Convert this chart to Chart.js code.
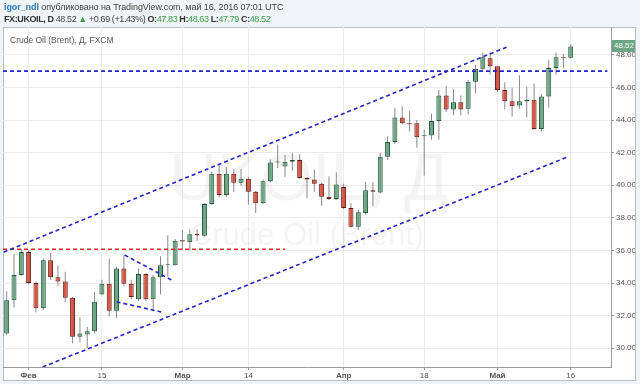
<!DOCTYPE html>
<html>
<head>
<meta charset="utf-8">
<script src="https://cdn.jsdelivr.net/npm/chart.js@4.4.1/dist/chart.umd.min.js"></script>
<style>
  html, body { margin: 0; padding: 0; background: #f0f3f7; }
  #wrap { position: relative; width: 640px; height: 384px; overflow: hidden; }
  #chart { position: absolute; left: 0; top: 0; }
  .hdr { position: absolute; left: 4px; font-family: "Liberation Sans", Arial, sans-serif; font-size: 9px; color: #444; white-space: nowrap; }
  .user { color: #2a7ab8; font-weight: bold; }
  .b { font-weight: bold; color: #333; }
  .g { color: #3aa04a; }
</style>
</head>
<body>
<div id="wrap">
  <canvas id="chart" width="640" height="384"></canvas>
  <div class="hdr" style="top:2px;letter-spacing:-0.08px"><span class="user">igor_ndl</span> опубликовано на TradingView.com, май 16, 2016 07:01 UTC</div>
  <div class="hdr" style="top:14px;letter-spacing:-0.4px"><span class="b">FX:UKOIL, D</span> 48.52 <span class="g">▲</span> +0.69 (+1.43%) <span class="b">O:</span><span class="g">47.83</span> <span class="b">H:</span><span class="g">48.63</span> <span class="b">L:</span><span class="g">47.79</span> <span class="b">C:</span><span class="g">48.52</span></div>
  <div class="hdr" style="top:35px;left:10px;font-size:8.5px;color:#555">Crude Oil (Brent), Д, FXCM</div>
</div>
<script>
// daily candles, FX:UKOIL
const dates = [
  "2016-01-27", "2016-01-28", "2016-01-29", "2016-02-01", "2016-02-02", "2016-02-03", "2016-02-04", "2016-02-05",
  "2016-02-08", "2016-02-09", "2016-02-10", "2016-02-11", "2016-02-12", "2016-02-15", "2016-02-16", "2016-02-17",
  "2016-02-18", "2016-02-19", "2016-02-22", "2016-02-23", "2016-02-24", "2016-02-25", "2016-02-26", "2016-02-29",
  "2016-03-01", "2016-03-02", "2016-03-03", "2016-03-04", "2016-03-07", "2016-03-08", "2016-03-09", "2016-03-10",
  "2016-03-11", "2016-03-14", "2016-03-15", "2016-03-16", "2016-03-17", "2016-03-18", "2016-03-21", "2016-03-22",
  "2016-03-23", "2016-03-24", "2016-03-28", "2016-03-29", "2016-03-30", "2016-03-31", "2016-04-01", "2016-04-04",
  "2016-04-05", "2016-04-06", "2016-04-07", "2016-04-08", "2016-04-11", "2016-04-12", "2016-04-13", "2016-04-14",
  "2016-04-15", "2016-04-18", "2016-04-19", "2016-04-20", "2016-04-21", "2016-04-22", "2016-04-25", "2016-04-26",
  "2016-04-27", "2016-04-28", "2016-04-29", "2016-05-02", "2016-05-03", "2016-05-04", "2016-05-05", "2016-05-06",
  "2016-05-09", "2016-05-10", "2016-05-11", "2016-05-12", "2016-05-13", "2016-05-16"
];
const opens = [
  30.9, 32.95, 34.5, 35.9, 34.0, 32.45, 35.4, 34.35, 34.1, 33.1, 30.7, 30.85, 31.05, 33.3, 33.95, 32.3,
  34.9, 33.95, 33.0, 34.55, 33.0, 34.35, 35.1, 35.1, 36.62, 36.5, 37.02, 36.9, 38.85, 40.7, 39.4, 40.7,
  40.15, 40.4, 39.6, 38.9, 40.25, 41.45, 41.15, 41.45, 41.55, 40.45, 40.35, 40.1, 39.3, 39.15, 39.9, 38.6,
  37.45, 38.3, 39.7, 39.55, 41.75, 42.65, 44.15, 43.8, 43.8, 43.0, 43.05, 43.95, 45.5, 44.65, 45.1, 44.7,
  46.35, 47.15, 47.8, 47.3, 45.85, 45.15, 44.9, 45.15, 45.25, 43.45, 45.45, 47.2, 47.85, 47.83
];
const highs = [
  33.5, 35.8, 36.1, 36.0, 34.1, 35.5, 35.85, 35.1, 34.7, 33.15, 31.9, 31.3, 33.45, 34.2, 35.5, 35.0,
  35.7, 34.2, 34.9, 34.6, 34.5, 35.65, 36.95, 36.7, 37.25, 37.3, 37.3, 38.9, 40.85, 41.25, 41.1, 41.0,
  41.0, 40.5, 39.65, 40.35, 41.6, 42.5, 41.85, 42.0, 41.9, 40.5, 40.95, 40.15, 40.55, 40.8, 40.1, 38.9,
  38.5, 40.2, 40.2, 42.0, 43.0, 44.75, 44.85, 44.55, 44.0, 43.4, 44.4, 45.85, 46.1, 45.9, 45.5, 46.45,
  47.4, 48.15, 48.15, 47.3, 46.3, 46.0, 46.75, 46.05, 46.25, 45.6, 47.7, 48.15, 48.05, 48.63
];
const lows = [
  30.8, 32.5, 34.45, 33.9, 32.2, 32.35, 34.2, 33.8, 32.8, 30.3, 30.35, 30.0, 30.9, 33.3, 31.95, 31.85,
  33.8, 33.0, 32.9, 32.9, 32.25, 33.3, 34.4, 35.1, 36.05, 36.0, 36.6, 36.85, 38.8, 39.25, 39.3, 39.6,
  39.95, 38.8, 38.3, 38.85, 40.2, 41.05, 40.5, 40.9, 40.4, 39.2, 39.6, 38.75, 39.1, 39.1, 38.55, 37.4,
  37.25, 38.2, 38.7, 39.5, 41.55, 42.55, 43.75, 43.3, 42.3, 40.6, 42.8, 42.8, 44.5, 44.3, 44.3, 44.35,
  45.65, 47.0, 46.8, 45.7, 44.65, 44.2, 44.7, 44.15, 43.4, 43.3, 44.75, 46.8, 47.2, 47.79
];
const closes = [
  32.95, 34.5, 35.9, 34.0, 32.45, 35.4, 34.35, 34.1, 33.1, 30.7, 30.9, 31.05, 32.85, 33.95, 32.3, 34.9,
  33.95, 33.15, 34.55, 33.0, 34.35, 35.1, 35.15, 36.6, 36.55, 37.0, 36.95, 38.85, 40.7, 39.4, 40.7, 40.15,
  40.4, 39.6, 38.9, 40.25, 41.4, 41.4, 41.45, 41.55, 40.45, 40.35, 40.1, 39.3, 39.15, 40.05, 38.6, 37.45,
  38.35, 39.7, 39.6, 41.75, 42.65, 44.15, 43.8, 43.75, 42.95, 43.05, 43.95, 45.5, 44.65, 45.1, 44.65, 46.35,
  47.15, 47.85, 47.3, 45.85, 45.15, 44.85, 45.15, 45.25, 43.45, 45.45, 47.2, 47.85, 47.8, 48.52
];

const tickDates = ["2016-02-01", "2016-02-15", "2016-03-01", "2016-03-14", "2016-04-01", "2016-04-18", "2016-05-02", "2016-05-16"];
const tickLabels = ["Фев", "15", "Мар", "14", "Апр", "18", "Май", "16"];

// hand-drawn lines on the chart: [candle index, price]
const channelTop = [[-0.4, 35.9], [68.6, 48.54]];
const channelBottom = [[4.9, 28.85], [76.6, 41.74]];
const levelBlue = [[-0.5, 47.0], [82.0, 47.0]];
const levelRed = [[-0.5, 36.07], [38.0, 36.07]];
const pennantTop = [[16.1, 35.72], [22.7, 34.14]];
const pennantBottom = [[15.0, 32.85], [21.1, 32.23]];

const FONT = "'Liberation Sans', Arial, sans-serif";
const upFill = "#6ba583", downFill = "#d75442";
const upLine = "#225437", downLine = "#5b1a13";

const isUp = opens.map((o, i) => closes[i] >= o);

function lineSet(pts, color) {
  return {
    type: "line",
    data: pts.map(p => ({ x: p[0], y: p[1] })),
    borderColor: color,
    borderWidth: 1.6,
    borderDash: [4, 3],
    pointRadius: 0,
    order: 0
  };
}

const frame = {
  id: "frame",
  beforeDraw(chart) {
    const c = chart.ctx;
    c.save();
    c.fillStyle = "#ffffff";
    c.fillRect(3, 27, 632, 353);
    c.strokeStyle = "#b9bdc3";
    c.lineWidth = 1;
    c.strokeRect(3.5, 27.5, 632, 353);
    c.restore();
  },
  beforeDatasetsDraw(chart) {
    const c = chart.ctx;
    c.save();
    c.fillStyle = "rgba(0,0,0,0.045)";
    c.textAlign = "center";
    c.font = "66px " + FONT;
    c.fillText("UKOIL, Д", 309, 200);
    c.font = "31px " + FONT;
    c.fillText("Crude Oil (Brent)", 307, 245);
    c.restore();
  },
  afterDraw(chart) {
    const c = chart.ctx;
    const y = Math.round(chart.scales.y.getPixelForValue(closes[closes.length - 1]));
    c.save();
    c.fillStyle = upFill;
    c.fillRect(612, y - 6, 23, 12);
    c.fillStyle = "#ffffff";
    c.font = "8px " + FONT;
    c.textBaseline = "middle";
    c.fillText(closes[closes.length - 1].toFixed(2), 614, y);
    c.restore();
  }
};

new Chart(document.getElementById("chart"), {
  data: {
    datasets: [
      lineSet(channelTop, "#2424cc"),
      lineSet(channelBottom, "#2424cc"),
      lineSet(levelBlue, "#2424cc"),
      lineSet(levelRed, "#e42a24"),
      lineSet(pennantTop, "#2424cc"),
      lineSet(pennantBottom, "#2424cc"),
      {
        type: "bar",
        data: dates.map((d, i) => ({ x: i, y: [opens[i], closes[i]] })),
        backgroundColor: isUp.map(u => u ? upFill : downFill),
        borderColor: isUp.map(u => u ? upLine : downLine),
        borderWidth: 1,
        borderSkipped: false,
        minBarLength: 1,
        grouped: false,
        categoryPercentage: 1,
        barPercentage: 0.68,
        order: 1
      },
      {
        type: "bar",
        data: dates.map((d, i) => ({ x: i, y: [lows[i], highs[i]] })),
        backgroundColor: "#8a8a8c",
        grouped: false,
        maxBarThickness: 1,
        order: 2
      }
    ]
  },
  options: {
    responsive: false,
    animation: false,
    layout: { padding: { left: 3, top: 27, right: 5, bottom: 4 } },
    plugins: { legend: { display: false }, tooltip: { enabled: false } },
    scales: {
      x: {
        type: "linear",
        min: -0.5,
        max: 82.5,
        offset: false,
        afterBuildTicks: s => { s.ticks = tickDates.map(d => ({ value: dates.indexOf(d) })); },
        afterFit: s => { s.height = 13; },
        grid: { color: "#ebebeb", tickLength: 3, tickColor: "#999", offset: false },
        border: { color: "#9a9a9a" },
        ticks: {
          autoSkip: false,
          maxRotation: 0,
          padding: 1,
          color: "#555",
          font: ctx => ({ family: FONT, size: 8, weight: /^\d/.test(tickLabels[ctx.index] || "") ? "normal" : "bold" }),
          callback: (v, i) => tickLabels[i]
        }
      },
      y: {
        position: "right",
        min: 28.85,
        max: 49.71,
        afterFit: s => { s.width = 24; },
        grid: { color: "#ebebeb", tickLength: 3, tickColor: "#999" },
        border: { color: "#9a9a9a" },
        ticks: {
          stepSize: 2,
          includeBounds: false,
          padding: 2,
          color: "#555",
          font: { family: FONT, size: 8 },
          callback: v => v.toFixed(2)
        }
      }
    }
  },
  plugins: [frame]
});
</script>
</body>
</html>
